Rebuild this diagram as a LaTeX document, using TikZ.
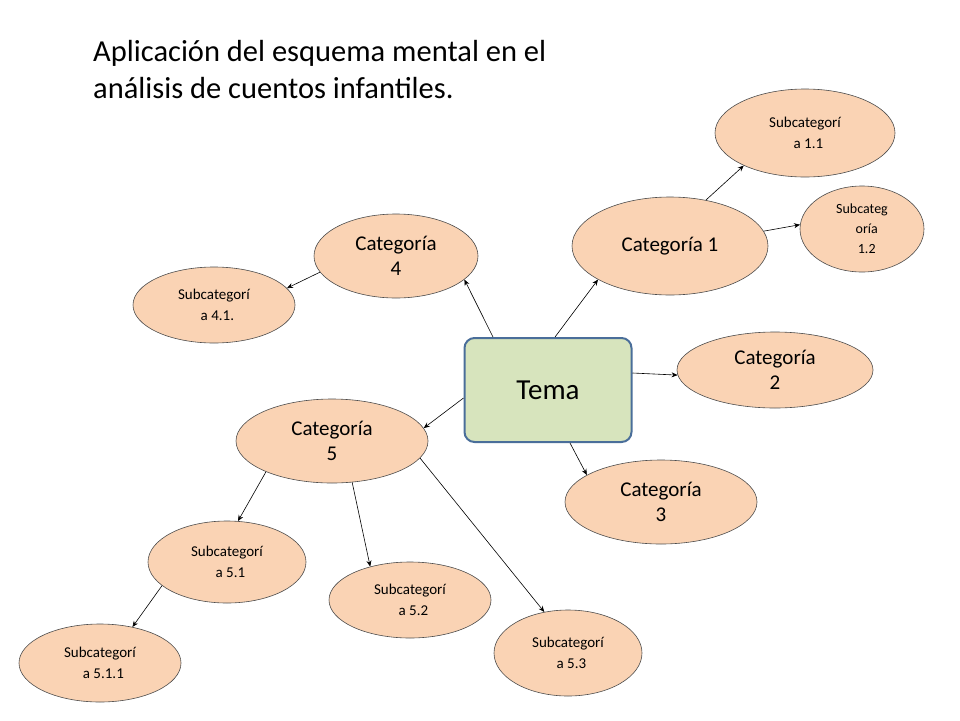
\documentclass[tikz,border=0pt]{standalone}
\usepackage{fontspec}
\setmainfont{Carlito}
\usetikzlibrary{shapes.geometric,arrows.meta}
\definecolor{peach}{HTML}{FAD3B4}
\definecolor{temag}{HTML}{D7E4BD}
\definecolor{temab}{HTML}{4A6E9A}
\begin{document}
\begin{tikzpicture}[x=1pt,y=-1pt,
  el/.style={ellipse,draw=black!70,fill=peach,line width=0.6pt,inner sep=0,align=center},
  cat/.style={el,font=\fontsize{21}{25}\selectfont},
  sub/.style={el,font=\fontsize{15}{21}\selectfont},
  arr/.style={-{Stealth[length=6pt,width=5pt]},line width=0.6pt}]
\useasboundingbox (0,0) rectangle (960,720);
\node[anchor=north west,align=left,font=\fontsize{30.5}{37}\selectfont,inner sep=0] (title) at (93,40)
  {Aplicación del esquema mental en el\\análisis de cuentos infantiles.};
\node[draw=temab,line width=2pt,fill=temag,rounded corners=10pt,minimum width=167,minimum height=104,font=\fontsize{29}{32}\selectfont] (tema) at (548,390) {Tema};
\node[cat,minimum width=196,minimum height=98] (c1) at (670,246) {Categoría 1};
\node[sub,minimum width=180,minimum height=88] (s11) at (805,133) {Subcategorí\\\ \ a 1.1};
\node[sub,minimum width=124,minimum height=86,font=\fontsize{14}{20}\selectfont] (s12) at (862,229) {Subcateg\\\ \ \ oría\\\ \ \ 1.2};
\node[cat,minimum width=164,minimum height=84] (c4) at (396,256) {Categoría\\4};
\node[sub,minimum width=162,minimum height=76] (s41) at (214,305) {Subcategorí\\\ \ a 4.1.};
\node[cat,minimum width=196,minimum height=76] (c2) at (775,370) {Categoría\\2};
\node[cat,minimum width=192,minimum height=84] (c5) at (332,441) {Categoría\\5};
\node[cat,minimum width=192,minimum height=84] (c3) at (661,502) {Categoría\\3};
\node[sub,minimum width=158,minimum height=82] (s51) at (227,562) {Subcategorí\\\ \ a 5.1};
\node[sub,minimum width=162,minimum height=76] (s52) at (410,600) {Subcategorí\\\ \ a 5.2};
\node[sub,minimum width=162,minimum height=78] (s511) at (100,663) {Subcategorí\\\ \ a 5.1.1};
\node[sub,minimum width=148,minimum height=86] (s53) at (568,653) {Subcategorí\\\ \ a 5.3};
\draw[arr] ([xshift=7]tema.north) -- (c1.205);
\draw[arr] ([xshift=-55]tema.north) -- (c4.341);
\draw[arr] ([yshift=17]tema.east) -- (c2.183);
\draw[arr] ([xshift=22]tema.south) -- (c3.160);
\draw[arr] ([yshift=-8]tema.west) -- (c5.8);
\draw[arr] (c1.52) -- (s11.208);
\draw[arr] (c1.9) -- (s12.176);
\draw[arr] (c4.192) -- (s41.13);
\draw[arr] (c5.205) -- (s51.75);
\draw[arr] (c5.296) -- (s52.140);
\draw[arr] (c5.349) -- (s53.120);
\draw[arr] (s51.200) -- (s511.48);
\end{tikzpicture}
\end{document}
